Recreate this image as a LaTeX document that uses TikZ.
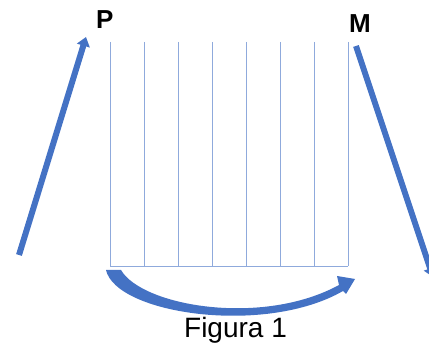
\documentclass[tikz,border=0pt]{standalone}
\usepackage{fontspec}
\setmainfont{Liberation Sans}
\usetikzlibrary{arrows.meta}
\definecolor{arrowblue}{HTML}{4472C4}
\definecolor{gridblue}{HTML}{8FAADC}

\begin{document}
\begin{tikzpicture}[x=1pt, y=-1pt,
    gridline/.style={draw=gridblue, line width=0.8pt},
    bigarrow/.style={draw=arrowblue, line width=6pt, -{Triangle[length=9pt,width=13pt]}},
    cornerlabel/.style={font=\bfseries\fontsize{26}{28}\selectfont, inner sep=0pt, anchor=base west},
    caption/.style={font=\fontsize{28}{30}\selectfont, inner sep=0pt, anchor=base}
]
\useasboundingbox (0,0) rectangle (429,344);
\clip (0,0) rectangle (429,344);

% strip of vertical lines
\foreach \i in {0,...,7}
  \draw[gridline] (110+34*\i,42) -- (110+34*\i,266);
\draw[gridline] (110,266) -- (348,266);

% corner labels
\node[cornerlabel] (p) at (96,29) {P};
\node[cornerlabel] (m) at (349,33) {M};

% side arrows
\coordinate (lstart) at (19,255);
\coordinate (ltip) at (86,37);
\draw[bigarrow] (lstart) -- (ltip);

\coordinate (rstart) at (356,46);
\coordinate (rtip) at (433,277);
\draw[bigarrow] (rstart) -- (rtip);

% curved arrow under the strip
\fill[arrowblue] (106,270) .. controls (116,314) and (265,336) .. (343,291)
  -- (346,294) -- (355,279) -- (337,276) -- (339,285)
  .. controls (262,327) and (142,306) .. (121,270) -- cycle;

\node[caption] (fig) at (235.5,338) {Figura 1};

\end{tikzpicture}
\end{document}
